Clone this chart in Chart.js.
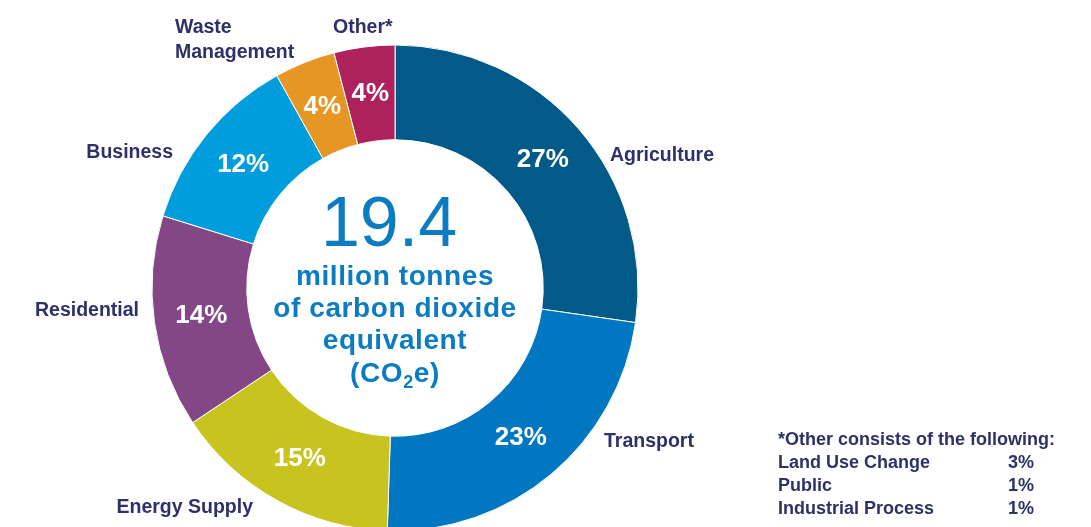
<!DOCTYPE html>
<html>
<head>
<meta charset="utf-8">
<script src="https://cdn.jsdelivr.net/npm/chart.js@4"></script>
<style>
  html, body { margin: 0; padding: 0; background: #fff; overflow: hidden; }
  #wrap { position: relative; width: 1091px; height: 527px; }
  #emissions-chart { position: absolute; left: 0; top: 0; }
  #other-note {
    position: absolute; left: 778px; top: 428px;
    font: bold 18px "Liberation Sans", Arial, sans-serif;
    color: #2e3166; line-height: 23px;
  }
  #other-note .row { display: flex; }
  #other-note .name { width: 230px; }
</style>
</head>
<body>
<div id="wrap">
  <canvas id="emissions-chart" width="1091" height="540"></canvas>
  <div id="other-note"></div>
</div>
<script>
// sectors, clockwise from 12 o'clock
const sectors = ['Agriculture', 'Transport', 'Energy Supply', 'Residential', 'Business', ['Waste', 'Management'], 'Other*'];
const shares = [27, 23, 15, 14, 12, 4, 4];
const sectorColors = ['#015a87', '#0077c0', '#c9c31f', '#834785', '#009ddc', '#e69624', '#ad225d'];

const totalEmissions = '19.4';
const totalCaption = ['million tonnes', 'of carbon dioxide', 'equivalent'];

// breakdown of the "Other" slice
const otherParts = ['Land Use Change', 'Public', 'Industrial Process'];
const otherShares = [3, 1, 1];

// where each sector name sits, relative to the doughnut centre
const nameSpots = [
    { dx: 215, dy: -132, align: 'left' },
    { dx: 209, dy: 154, align: 'left' },
    { dx: -142, dy: 220, align: 'right' },
    { dx: -256, dy: 23, align: 'right' },
    { dx: -222, dy: -135, align: 'right' },
    { dx: -220, dy: -260, align: 'left' },
    { dx: -62, dy: -260, align: 'left' }
];

const navy = '#2e3166';
const blue = '#0b7cc1';
const font = '"Liberation Sans", Arial, sans-serif';

const sliceText = {
    id: 'sliceText',
    afterDraw(chart) {
        const ctx = chart.ctx;
        const arcs = chart.getDatasetMeta(0).data;
        const cx = arcs[0].x;
        const cy = arcs[0].y;
        ctx.save();

        // percentages inside the ring
        ctx.fillStyle = '#fff';
        ctx.font = 'bold 26px ' + font;
        ctx.textAlign = 'center';
        ctx.textBaseline = 'middle';
        arcs.forEach((arc, i) => {
            const p = arc.tooltipPosition();
            ctx.fillText(shares[i] + '%', p.x, p.y);
        });

        // sector names outside
        ctx.fillStyle = navy;
        ctx.font = 'bold 19.5px ' + font;
        sectors.forEach((name, i) => {
            const spot = nameSpots[i];
            const lines = Array.isArray(name) ? name : [name];
            ctx.textAlign = spot.align;
            lines.forEach((line, j) => {
                ctx.fillText(line, cx + spot.dx, cy + spot.dy + j * 25);
            });
        });

        // total in the middle
        ctx.fillStyle = blue;
        ctx.textAlign = 'center';
        ctx.textBaseline = 'alphabetic';
        ctx.font = '70px ' + font;
        ctx.fillText(totalEmissions, cx - 6, cy - 42);

        ctx.font = 'bold 28px ' + font;
        ctx.letterSpacing = '0.6px';
        totalCaption.forEach((line, i) => {
            ctx.fillText(line, cx, cy - 3 + i * 32);
        });

        // (CO2e) with a lowered 2
        const base = cy + 94;
        const left = '(CO';
        const right = 'e)';
        ctx.font = 'bold 28px ' + font;
        const wl = ctx.measureText(left).width;
        const wr = ctx.measureText(right).width;
        ctx.font = 'bold 18px ' + font;
        const ws = ctx.measureText('2').width;
        let x = cx - (wl + ws + wr) / 2;
        ctx.textAlign = 'left';
        ctx.font = 'bold 28px ' + font;
        ctx.fillText(left, x, base);
        x += wl;
        ctx.font = 'bold 18px ' + font;
        ctx.fillText('2', x, base + 6);
        x += ws;
        ctx.font = 'bold 28px ' + font;
        ctx.fillText(right, x, base);

        ctx.restore();
    }
};

new Chart(document.getElementById('emissions-chart'), {
    type: 'doughnut',
    data: {
        labels: sectors,
        datasets: [{
            data: shares,
            backgroundColor: sectorColors,
            borderColor: '#fff',
            borderWidth: 1,
            hoverOffset: 0
        }]
    },
    options: {
        responsive: false,
        animation: false,
        devicePixelRatio: 1,
        cutout: '61%',
        layout: {
            padding: { left: 151.5, right: 452.5, top: 44.5, bottom: 8.5 }
        },
        plugins: {
            legend: { display: false },
            tooltip: { enabled: false }
        }
    },
    plugins: [sliceText]
});

// footnote listing what "Other" is made of
const note = document.getElementById('other-note');
note.innerHTML = '<div>*Other consists of the following:</div>' +
    otherParts.map((part, i) =>
        `<div class="row"><span class="name">${part}</span><span>${otherShares[i]}%</span></div>`
    ).join('');
</script>
</body>
</html>
